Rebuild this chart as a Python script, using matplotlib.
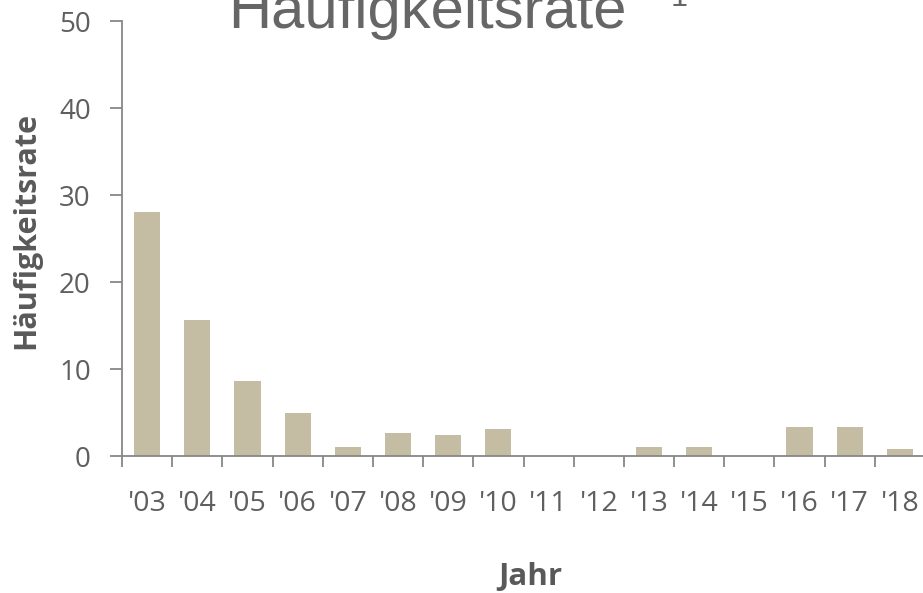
import matplotlib
matplotlib.use("Agg")
import matplotlib.pyplot as plt
import numpy as np

years = ["'03", "'04", "'05", "'06", "'07", "'08", "'09", "'10", "'11", "'12",
         "'13", "'14", "'15", "'16", "'17", "'18"]
rates = [28.1, 15.6, 8.6, 5.0, 1.1, 2.7, 2.5, 3.1, 0.0, 0.0,
         1.1, 1.1, 0.0, 3.4, 3.4, 0.8]
title_text = "Häufigkeitsrate"
title_note = "1"
y_label = "Häufigkeitsrate"
x_label = "Jahr"

W, H = 923, 593
fig = plt.figure(figsize=(W / 100, H / 100), dpi=100)
ax_left, ax_right = 122, 925
ax_top, ax_bot = 21, 456.3
ax = fig.add_axes([ax_left / W, 1 - ax_bot / H, (ax_right - ax_left) / W, (ax_bot - ax_top) / H])

x = np.arange(len(years))
ax.bar(x, rates, width=0.52, color="#C4BCA3", edgecolor="none", zorder=2)

ax.set_xlim(-0.5, len(years) - 0.5)
ax.set_ylim(0, 50)

spine_c = "#878787"
label_c = "#5f5f5f"
for s in ["top", "right"]:
    ax.spines[s].set_visible(False)
for s in ["left", "bottom"]:
    ax.spines[s].set_color(spine_c)
    ax.spines[s].set_linewidth(1.3)

tick_font = "Open Sans"
ax.set_yticks(np.arange(0, 51, 10))
ax.tick_params(axis="y", which="major", direction="out", length=8.5, width=1.3,
               color=spine_c, labelsize=20, labelcolor=label_c, pad=14)
for lab in ax.get_yticklabels():
    lab.set_fontfamily(tick_font)

ax.set_xticks(np.arange(-0.5, len(years), 1.0))
ax.set_xticklabels([])
ax.tick_params(axis="x", which="major", direction="out", length=8, width=1.3, color=spine_c)
ax.set_xticks(x, minor=True)
ax.set_xticklabels(years, minor=True, fontfamily=tick_font)
ax.tick_params(axis="x", which="minor", length=0, labelsize=20.5, labelcolor=label_c, pad=24)

fig.text(26 / W, 1 - 230 / H, y_label, rotation=90, ha="center", va="center",
         fontsize=22, fontweight="bold", color="#595959", fontfamily=tick_font)
fig.text(530 / W, 1 - 577 / H, x_label, ha="center", va="center",
         fontsize=22.5, fontweight="bold", color="#595959", fontfamily=tick_font)

fig.text(228 / W, 1 - 28 / H, title_text, ha="left", va="baseline",
         fontsize=43, color="#666666", fontfamily="Liberation Sans")
fig.text(671 / W, 1 - 6 / H, title_note, ha="left", va="baseline",
         fontsize=22, color="#666666", fontfamily="Liberation Sans")

fig.savefig("out.png", dpi=100)
